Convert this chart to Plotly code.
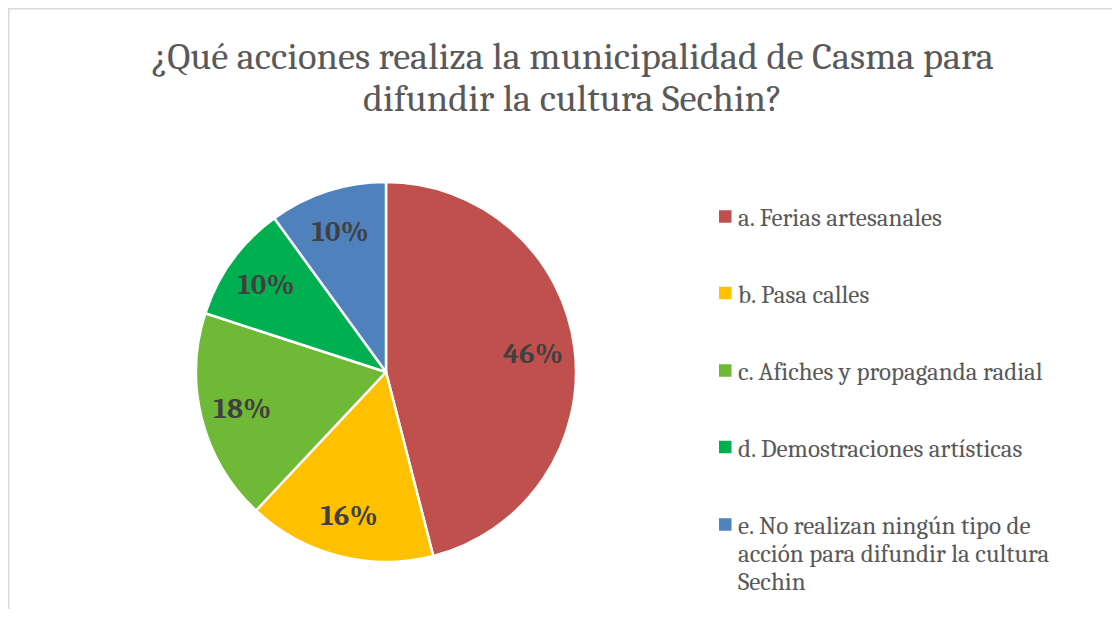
import plotly.graph_objects as go

labels = [
    "a. Ferias artesanales",
    "b. Pasa calles",
    "c. Afiches y propaganda radial",
    "d. Demostraciones artísticas",
    "e. No realizan ningún tipo de acción para difundir la cultura Sechin",
]
legend_lines = [
    ["a. Ferias artesanales"],
    ["b. Pasa calles"],
    ["c. Afiches y propaganda radial"],
    ["d. Demostraciones artísticas"],
    ["e. No realizan ningún tipo de", "acción para difundir la cultura", "Sechin"],
]
values = [46, 16, 18, 10, 10]
colors = ["#C0504D", "#FFC000", "#6FB936", "#00B050", "#4F81BD"]
title_lines = ["¿Qué acciones realiza la municipalidad de Casma para",
               "difundir la cultura Sechin?"]

# page body has an 8px margin: figure sits at (8, 8) in the window
OFF = 8
W, H = 1120 - 2 * OFF, 617 - 2 * OFF
SERIF = "Cambria, 'DejaVu Serif', serif"


def px(xw):
    return (xw - OFF) / W


def py(yw):
    return 1 - (yw - OFF) / H


CX, CY, R = 386, 372, 190
dom = dict(x=[px(CX - R), px(CX + R)], y=[py(CY + R), py(CY - R)])

fig = go.Figure()
# coloured pie
fig.add_trace(go.Pie(
    labels=labels, values=values, sort=False, direction="clockwise", rotation=0,
    marker=dict(colors=colors, line=dict(color="white", width=2.5)),
    textinfo="none", domain=dom, showlegend=False, hoverinfo="label+percent",
))
# transparent ring carrying the percentage labels (places them out towards the rim)
fig.add_trace(go.Pie(
    labels=labels, values=values, sort=False, direction="clockwise", rotation=0,
    hole=0.56,
    marker=dict(colors=["rgba(0,0,0,0)"] * len(values), line=dict(width=0)),
    texttemplate="%{percent:.0%}", textposition="inside",
    insidetextorientation="horizontal",
    textfont=dict(family=SERIF, size=29, color="#404040", weight="bold"),
    domain=dom, showlegend=False, hoverinfo="skip",
))

# chart-area border
fig.add_shape(type="rect", xref="paper", yref="paper",
              x0=0.8 / W, x1=1.05, y0=-0.05, y1=1 - 0.8 / H,
              line=dict(color="#D9D9D9", width=1.5), fillcolor="rgba(0,0,0,0)")

# legend (drawn manually to reproduce the spacing)
marker_y = [216.5, 293, 370.5, 447, 524.5]
for lines, col, yy in zip(legend_lines, colors, marker_y):
    fig.add_shape(type="rect", xref="paper", yref="paper",
                  x0=px(719), x1=px(731.5), y0=py(yy + 6.25), y1=py(yy - 6.25),
                  line=dict(width=0), fillcolor=col)
    for i, ln in enumerate(lines):
        fig.add_annotation(xref="paper", yref="paper", x=px(736), y=py(yy + 1 + 28 * i),
                           xanchor="left", yanchor="middle", align="left", showarrow=False,
                           text=ln, font=dict(family=SERIF, size=25, color="#595959"))

# title (two lines, tighter spacing than <br>)
for i, ln in enumerate(title_lines):
    fig.add_annotation(xref="paper", yref="paper", x=px(572), y=py(56 + 43 * i),
                       xanchor="center", yanchor="middle", showarrow=False,
                       text=ln, font=dict(family=SERIF, size=38.5, color="#595959"))

fig.update_layout(
    width=W, height=H,
    margin=dict(l=0, r=0, t=0, b=0),
    paper_bgcolor="white", plot_bgcolor="white",
)

fig.write_html("out.html")
